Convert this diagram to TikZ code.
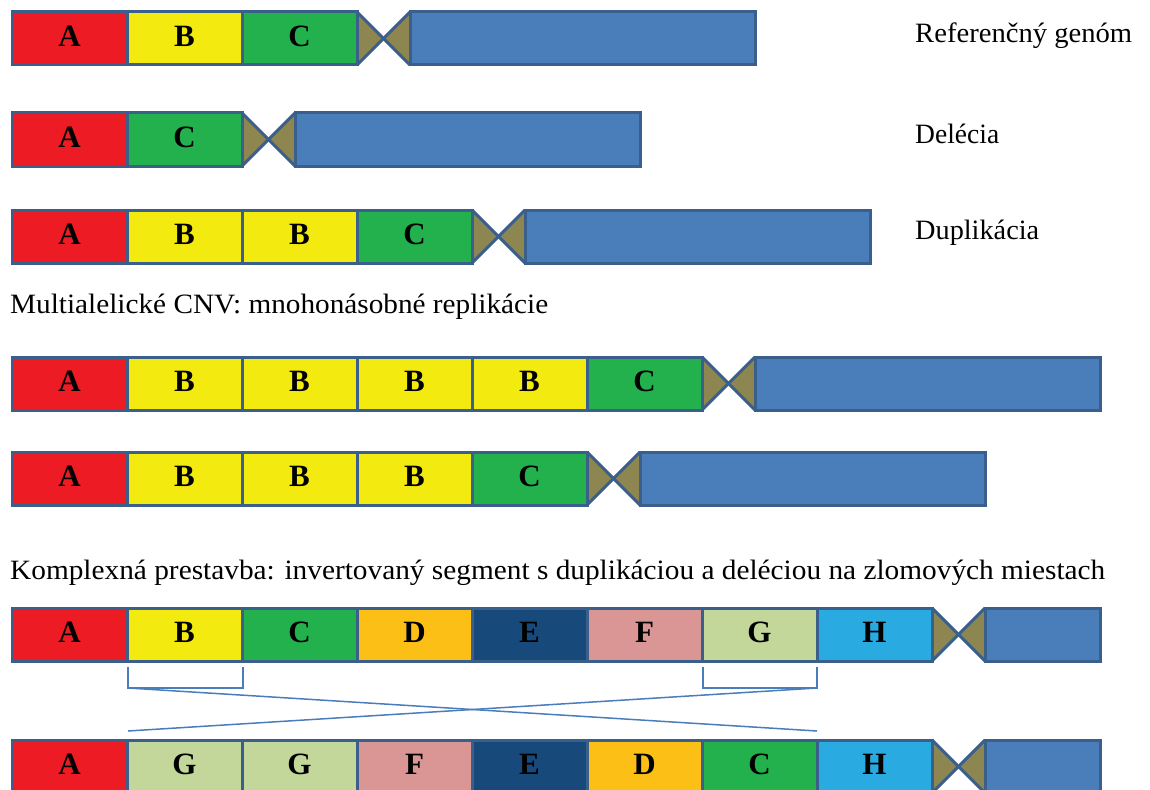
\documentclass[tikz,border=0pt]{standalone}
\usepackage{fontspec}
\setmainfont{Liberation Serif}
\usepackage{graphicx}
\definecolor{bord}{HTML}{3A5F8B}
\definecolor{cred}{HTML}{ED1C24}
\definecolor{cyel}{HTML}{F3EA10}
\definecolor{cgrn}{HTML}{22B14C}
\definecolor{corg}{HTML}{FBBF16}
\definecolor{cdbl}{HTML}{17497B}
\definecolor{cpnk}{HTML}{D99695}
\definecolor{cpgr}{HTML}{C4D79B}
\definecolor{csky}{HTML}{29AAE1}
\definecolor{armblue}{HTML}{4A7EBB}
\definecolor{centro}{HTML}{8E8651}
\definecolor{brk}{HTML}{4A7EBB}

\newcommand{\chromrow}[5]{%
  \foreach \L/\C [count=\i from 0] in {#4} {
    \node[seg, fill=\C] (#1-\i) at ({12+\i*115}, #2) {\L};
  }
  \pgfmathsetmacro{\xo}{12+#3*115}
  \pgfmathsetmacro{\xm}{\xo+26.5}
  \pgfmathsetmacro{\xe}{\xo+53}
  \pgfmathsetmacro{\ym}{#2+26.5}
  \pgfmathtruncatemacro{\last}{#3-1}
  \coordinate (#1-cen) at (\xm,\ym);
  \node[seg, fill=armblue, minimum width=#5] (#1-arm) at (\xe,#2) {};
  \fill[centro] (#1-\last.north east) -- (#1-cen) -- (#1-\last.south east) -- cycle;
  \fill[centro] (#1-arm.north west) -- (#1-cen) -- (#1-arm.south west) -- cycle;
  \draw[bordline] (#1-\last.north east) -- (#1-arm.south west);
  \draw[bordline] (#1-\last.south east) -- (#1-arm.north west);
  \draw[bordline] (#1-\last.north east) -- (#1-\last.south east);
  \draw[bordline] (#1-arm.north west) -- (#1-arm.south west);
}

\begin{document}
\begin{tikzpicture}[x=1pt,y=-1pt,
  seg/.style={draw=bord, line width=3pt, minimum width=115pt, minimum height=53pt,
    inner sep=0pt, outer sep=0pt, anchor=north west, text height=21pt, text depth=5pt,
    font=\fontsize{31}{31}\selectfont\bfseries},
  bordline/.style={draw=bord, line width=3pt, line join=miter},
  lab/.style={anchor=base west, inner sep=0pt, font=\fontsize{28}{28}\selectfont},
  brkline/.style={draw=brk, line width=1.5pt}]
\useasboundingbox (0,0) rectangle (1150,789);
\clip (0,0) rectangle (1150,789);

\chromrow{r1}{12}{3}{A/cred,B/cyel,C/cgrn}{345pt}
\chromrow{r2}{113}{2}{A/cred,C/cgrn}{345pt}
\chromrow{r3}{210}{4}{A/cred,B/cyel,B/cyel,C/cgrn}{345pt}
\chromrow{r4}{357}{6}{A/cred,B/cyel,B/cyel,B/cyel,B/cyel,C/cgrn}{345pt}
\chromrow{r5}{452}{5}{A/cred,B/cyel,B/cyel,B/cyel,C/cgrn}{345pt}
\chromrow{r6}{608}{8}{A/cred,B/cyel,C/cgrn,D/corg,E/cdbl,F/cpnk,G/cpgr,H/csky}{115pt}
\chromrow{r7}{740}{8}{A/cred,G/cpgr,G/cpgr,F/cpnk,E/cdbl,D/corg,C/cgrn,H/csky}{115pt}

\node[lab] (l1) at (915,43) {\resizebox{217pt}{\height}{Referenčný genóm}};
\node[lab] (l2) at (915,143) {\resizebox{84pt}{\height}{Delécia}};
\node[lab] (l3) at (915,239) {\resizebox{124pt}{\height}{Duplikácia}};
\node[lab] (l4) at (10,313) {\resizebox{538pt}{\height}{Multialelické CNV: mnohonásobné replikácie}};
\node[lab] (l5) at (10,579) {\resizebox{1095pt}{\height}{Komplexná prestavba: invertovaný segment s duplikáciou a deléciou na zlomových miestach}};

\coordinate (bl1) at (128,667);
\coordinate (bl2) at (128,688);
\coordinate (bl3) at (243,688);
\coordinate (bl4) at (243,667);
\coordinate (br1) at (703,667);
\coordinate (br2) at (703,688);
\coordinate (br3) at (817,688);
\coordinate (br4) at (817,667);
\coordinate (xl) at (128,731);
\coordinate (xr) at (817,731);
\draw[brkline] (bl1) -- (bl2) -- (bl3) -- (bl4);
\draw[brkline] (br1) -- (br2) -- (br3) -- (br4);
\draw[brkline] (bl2) -- (xr);
\draw[brkline] (xl) -- (br3);
\end{tikzpicture}
\end{document}
